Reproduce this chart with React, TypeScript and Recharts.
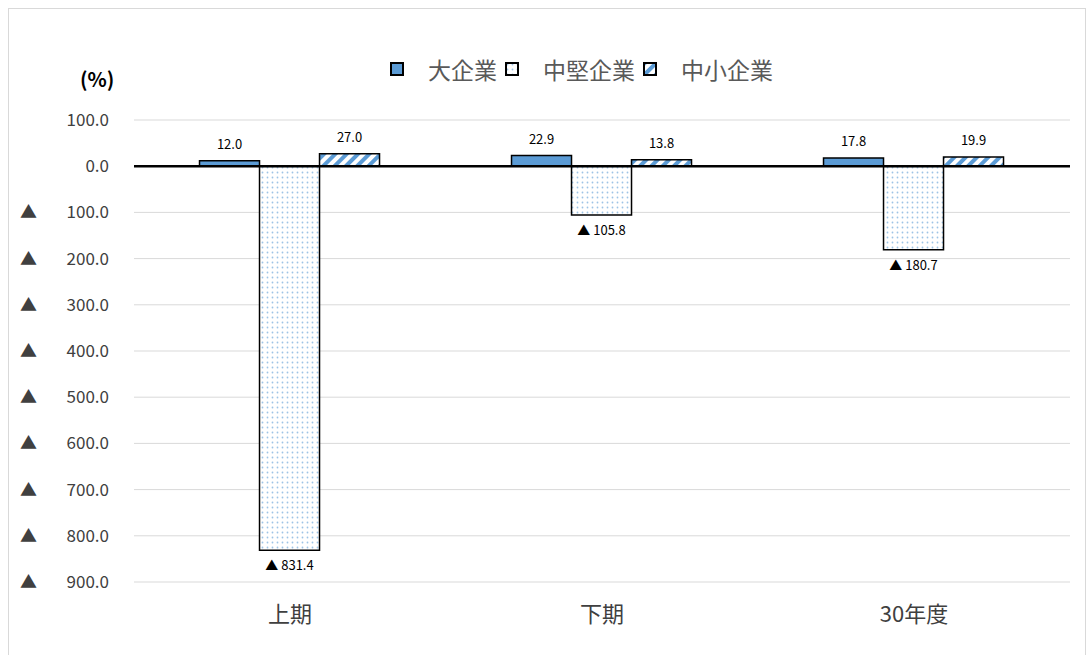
import { BarChart, Bar, XAxis, YAxis, CartesianGrid, ReferenceLine, LabelList } from 'recharts';

const categories = ['上期', '下期', '30年度'];
const large = [12.0, 22.9, 17.8];
const mid = [-831.4, -105.8, -180.7];
const small = [27.0, 13.8, 19.9];
const yTicks = [100, 0, -100, -200, -300, -400, -500, -600, -700, -800, -900];

const data = categories.map((c, i) => ({ name: c, large: large[i], mid: mid[i], small: small[i] }));

const font = '"Noto Sans CJK JP", "Noto Sans", sans-serif';
const fmt = (v: number) => (v < 0 ? `▲ ${Math.abs(v).toFixed(1)}` : v.toFixed(1));

const YTick = (props: any) => {
  const { y, payload } = props;
  const v = payload.value as number;
  return (
    <g>
      {v < 0 && (
        <text x={20} y={y} dy={6} fontSize={17} fill="#404040" fontFamily={font}>▲</text>
      )}
      <text x={109} y={y} dy={6} textAnchor="end" fontSize={17} fill="#404040" fontFamily={font}>
        {Math.abs(v).toFixed(1)}
      </text>
    </g>
  );
};

const renderLabel = (props: any) => {
  const { x, y, width, height, value } = props;
  const neg = value < 0;
  const bottom = Math.max(y, y + height);
  const top = Math.min(y, y + height);
  const ty = neg ? bottom + 20 : top - 12;
  return (
    <text x={x + width / 2} y={ty} textAnchor="middle" fontSize={13} fill="#000" fontFamily={font}>
      {fmt(value)}
    </text>
  );
};

const Swatch = ({ fill }: { fill: string }) => (
  <svg width={14} height={14} style={{ verticalAlign: 'middle' }}>
    <rect x={1} y={1} width={12} height={12} fill={fill} stroke="#000" strokeWidth={2} />
  </svg>
);

export default function App() {
  return (
    <div style={{ position: 'absolute', left: 0, top: 0, width: 1091, height: 655, background: '#fff', fontFamily: font }}>
      <div style={{ position: 'absolute', left: 8, top: 8, width: 1076, height: 660, border: '1px solid #d9d9d9' }} />
      <div style={{ position: 'absolute', left: 80, top: 64, fontSize: 20, fontWeight: 'bold', color: '#000' }}>(%)</div>
      <div style={{ position: 'absolute', left: 390, top: 52, fontSize: 23, color: '#595959', display: 'flex', alignItems: 'center', gap: 8 }}>
        <Swatch fill="#5b9bd5" /><span style={{ marginLeft: 16 }}>大企業</span>
        <Swatch fill="url(#dots)" /><span style={{ marginLeft: 16 }}>中堅企業</span>
        <Swatch fill="url(#stripes)" /><span style={{ marginLeft: 16 }}>中小企業</span>
      </div>
      <BarChart
        width={1091}
        height={655}
        data={data}
        margin={{ top: 120, right: 21, bottom: 43, left: 34 }}
        barCategoryGap="21%"
        barGap={0}
        style={{ position: 'absolute', left: 0, top: 0 }}
      >
        <defs>
          <pattern id="dots" width="5" height="5" patternUnits="userSpaceOnUse">
            <rect width="5" height="5" fill="#fff" />
            <circle cx="2.5" cy="2.5" r="0.9" fill="#9dc3e6" />
          </pattern>
          <pattern id="stripes" width="8" height="8" patternUnits="userSpaceOnUse" patternTransform="rotate(45)">
            <rect width="8" height="8" fill="#fff" />
            <rect width="4" height="8" fill="#5b9bd5" />
          </pattern>
        </defs>
        <CartesianGrid vertical={false} stroke="#d9d9d9" />
        <XAxis dataKey="name" axisLine={false} tickLine={false} tick={{ fontSize: 22, fill: '#404040', fontFamily: font }} dy={16} />
        <YAxis
          domain={[-900, 100]}
          ticks={yTicks}
          interval={0}
          axisLine={false}
          tickLine={false}
          width={100}
          tick={<YTick />}
        />
        <Bar dataKey="large" fill="#5b9bd5" stroke="#000" strokeWidth={1.5} isAnimationActive={false}>
          <LabelList dataKey="large" content={renderLabel} />
        </Bar>
        <Bar dataKey="mid" fill="url(#dots)" stroke="#000" strokeWidth={1.5} isAnimationActive={false}>
          <LabelList dataKey="mid" content={renderLabel} />
        </Bar>
        <Bar dataKey="small" fill="url(#stripes)" stroke="#000" strokeWidth={1.5} isAnimationActive={false}>
          <LabelList dataKey="small" content={renderLabel} />
        </Bar>
        <ReferenceLine y={0} stroke="#000" strokeWidth={2.5} />
      </BarChart>
    </div>
  );
}
